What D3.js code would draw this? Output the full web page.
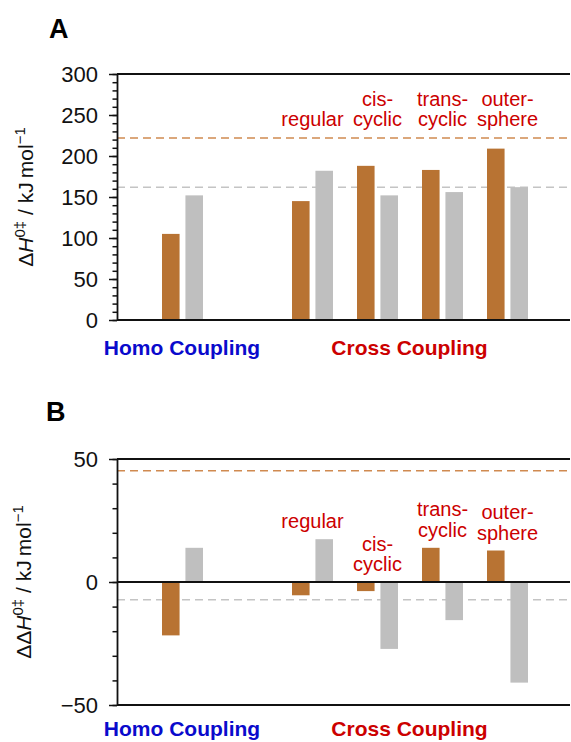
<!DOCTYPE html>
<html>
<head>
<meta charset="utf-8">
<script src="https://cdn.jsdelivr.net/npm/d3@7"></script>
<style>
  body { margin: 0; background: #fff; }
  svg { display: block; font-family: "Liberation Sans", Arial, Helvetica, sans-serif; }
</style>
</head>
<body>
<svg id="CHART" width="571" height="742"></svg>
<script>
// categories ("" is the empty slot between homo and cross coupling)
var slots = ["Homo", "", "regular", "cis-cyclic", "trans-cyclic", "outer-sphere"];
var cases = ["Homo", "regular", "cis-cyclic", "trans-cyclic", "outer-sphere"];
var caseLabels = [[], ["regular"], ["cis-", "cyclic"], ["trans-", "cyclic"], ["outer-", "sphere"]];
var series = ["copper", "grey"];
var groupNames = ["Homo Coupling", "Cross Coupling"];
var groupMembers = [["Homo"], ["regular", "cis-cyclic", "trans-cyclic", "outer-sphere"]];

// panel A : dH0‡ (kJ/mol)
var dH_copper = [105, 145, 188, 183, 209];
var dH_grey = [152, 182, 152, 156, 162];
var dH_refs = [222, 162];
var dH_ticks = [0, 50, 100, 150, 200, 250, 300];

// panel B : ddH0‡ (kJ/mol)
var ddH_copper = [-21.7, -5.4, -3.7, 13.9, 12.8];
var ddH_grey = [13.9, 17.4, -27.2, -15.5, -40.9];
var ddH_refs = [45.2, -7.2];
var ddH_ticks = [-50, 0, 50];

var COPPER = "#b87333";
var GREY = "#bfbfbf";
var REF_COLORS = ["#d08a50", "#c4c4c4"];
var RED = "#cc0000";
var BLUE = "#0a0acc";

var svg = d3.select("#CHART");
var left = 117, right = 570;

var x = d3.scaleBand().domain(slots).range([149.5, 539.5]);
var xs = d3.scaleBand().domain(series).range([12.5, 53.5]).paddingInner(0.25);

function drawPanel(cfg) {
  var y = d3.scaleLinear().domain(cfg.domain).range(cfg.range);
  var g = svg.append("g");

  // letter
  g.append("text")
    .attr("x", cfg.letterX).attr("y", cfg.letterY)
    .style("font-size", "27px").style("font-weight", "bold")
    .text(cfg.letter);

  // reference dashed lines
  g.selectAll("line.ref")
    .data(cfg.refs)
    .join("line")
    .attr("class", "ref")
    .attr("x1", left).attr("x2", right)
    .attr("y1", function (d) { return y(d); })
    .attr("y2", function (d) { return y(d); })
    .attr("stroke", function (d, i) { return REF_COLORS[i]; })
    .attr("stroke-width", 1.5)
    .attr("stroke-dasharray", "8,5");

  // bars
  var rows = [];
  cases.forEach(function (c, i) {
    rows.push({ c: c, s: "copper", v: cfg.copper[i] });
    rows.push({ c: c, s: "grey", v: cfg.grey[i] });
  });
  g.selectAll("rect.bar")
    .data(rows)
    .join("rect")
    .attr("class", "bar")
    .attr("x", function (d) { return x(d.c) + xs(d.s); })
    .attr("width", xs.bandwidth())
    .attr("y", function (d) { return y(Math.max(0, d.v)); })
    .attr("height", function (d) { return Math.abs(y(d.v) - y(0)); })
    .attr("fill", function (d) { return d.s == "copper" ? COPPER : GREY; });

  // frame lines (top, bottom, zero)
  var hl = [cfg.domain[1], cfg.domain[0]];
  if (cfg.domain[0] < 0) hl.push(0);
  g.selectAll("line.frame")
    .data(hl)
    .join("line")
    .attr("class", "frame")
    .attr("x1", left).attr("x2", right)
    .attr("y1", function (d) { return y(d); })
    .attr("y2", function (d) { return y(d); })
    .attr("stroke", "#111")
    .attr("stroke-width", 1.8);

  // minor + major ticks
  var minor = g.append("g")
    .attr("transform", "translate(" + left + ",0)")
    .call(d3.axisLeft(y)
      .tickValues(d3.range(cfg.domain[0], cfg.domain[1] + 1, 10))
      .tickSize(4.5).tickSizeOuter(0).tickFormat(""));
  minor.select(".domain").remove();
  minor.selectAll("line").attr("stroke", "#111").attr("stroke-width", 1.5);

  var major = g.append("g")
    .attr("transform", "translate(" + left + ",0)")
    .call(d3.axisLeft(y)
      .tickValues(cfg.ticks)
      .tickSize(8).tickSizeOuter(0).tickPadding(11)
      .tickFormat(function (d) { return d < 0 ? "\u2212" + Math.abs(d) : d; }));
  major.select(".domain").attr("stroke", "#111").attr("stroke-width", 1.8);
  major.selectAll("line").attr("stroke", "#111").attr("stroke-width", 1.5);
  major.selectAll("text")
    .style("font-size", "22px")
    .style("font-family", "'Liberation Sans', Arial, sans-serif")
    .attr("fill", "#111");

  // y title
  var t = g.append("text")
    .attr("transform", "translate(" + cfg.titleX + "," + (cfg.range[0] + cfg.range[1]) / 2 + ") rotate(-90)")
    .attr("text-anchor", "middle")
    .style("font-size", "21px")
    .attr("fill", "#111");
  t.append("tspan").text(cfg.delta);
  t.append("tspan").style("font-style", "italic").text("H");
  t.append("tspan").attr("dy", -8).style("font-size", "15px").text("0\u2021");
  t.append("tspan").attr("dy", 8).text(" / kJ\u2009mol");
  t.append("tspan").attr("dy", -8).style("font-size", "15px").text("\u22121");

  // case labels
  cases.forEach(function (c, i) {
    var lines = caseLabels[i];
    if (!lines.length) return;
    var base = cfg.labelBase(i, y);
    var cx = x(c) + x.bandwidth() / 2 + 0.5;
    lines.forEach(function (s, k) {
      g.append("text")
        .attr("x", cx)
        .attr("y", base - (lines.length - 1 - k) * 20.5)
        .attr("text-anchor", "middle")
        .style("font-size", "20px")
        .attr("fill", RED)
        .text(s);
    });
  });

  // group labels
  groupNames.forEach(function (name, i) {
    var centers = groupMembers[i].map(function (c) { return x(c) + x.bandwidth() / 2; });
    g.append("text")
      .attr("x", d3.mean([d3.min(centers), d3.max(centers)]))
      .attr("y", cfg.groupY)
      .attr("text-anchor", "middle")
      .style("font-size", "21px").style("font-weight", "bold")
      .attr("fill", i == 0 ? BLUE : RED)
      .text(name);
  });
}

drawPanel({
  letter: "A", letterX: 49, letterY: 38,
  domain: [0, 300], range: [320, 74], ticks: dH_ticks,
  copper: dH_copper, grey: dH_grey, refs: dH_refs,
  delta: "\u0394", titleX: 33,
  labelBase: function () { return 126; },
  groupY: 355
});

drawPanel({
  letter: "B", letterX: 46, letterY: 421,
  domain: [-50, 50], range: [705, 459], ticks: ddH_ticks,
  copper: ddH_copper, grey: ddH_grey, refs: ddH_refs,
  delta: "\u0394\u0394", titleX: 31,
  labelBase: function (i, y) {
    return y(Math.max(0, ddH_copper[i], ddH_grey[i])) - 11;
  },
  groupY: 736
});
</script>
</body>
</html>
